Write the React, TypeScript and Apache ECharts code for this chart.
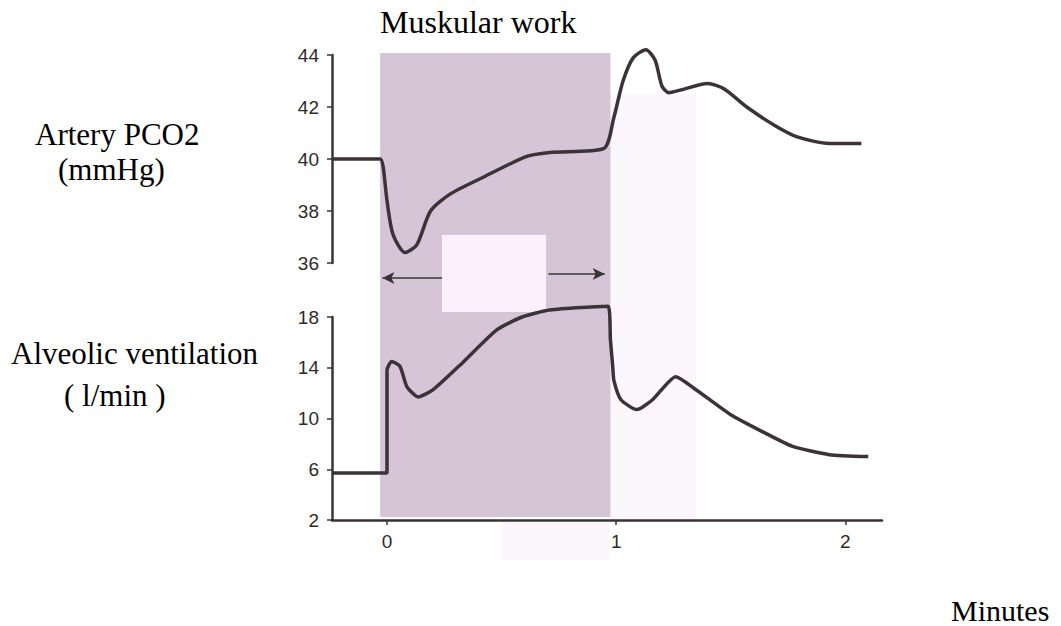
import React, { useEffect, useRef } from "react";
import * as echarts from "echarts";

// Time axis (minutes) and values
const xTicks = [0, 1, 2];
const pco2Ticks = [36, 38, 40, 42, 44];
const ventTicks = [2, 6, 10, 14, 18];

const pco2Time = [-0.24, -0.03, -0.017, 0, 0.026, 0.079, 0.13, 0.19, 0.275, 0.42, 0.61, 0.71, 0.945, 0.99, 1.03, 1.075, 1.13, 1.17, 1.2, 1.23, 1.28, 1.4, 1.47, 1.57, 1.69, 1.79, 1.93, 2.07];
const pco2Values = [40, 40, 39.7, 38.4, 37.1, 36.4, 36.7, 38.0, 38.65, 39.3, 40.1, 40.25, 40.4, 41.6, 43.0, 43.9, 44.2, 43.8, 42.8, 42.55, 42.65, 42.9, 42.7, 42.0, 41.3, 40.85, 40.6, 40.6];

const ventTime = [-0.24, 0, 0, 0.02, 0.057, 0.087, 0.136, 0.2, 0.33, 0.48, 0.59, 0.71, 0.965, 0.975, 0.985, 0.99, 1.02, 1.09, 1.16, 1.26, 1.35, 1.5, 1.64, 1.77, 1.93, 2.1];
const ventValues = [5.7, 5.7, 13.8, 14.5, 14.1, 12.5, 11.7, 12.25, 14.4, 17.0, 18.0, 18.55, 18.85, 16.2, 14.1, 13.0, 11.5, 10.7, 11.5, 13.3, 12.25, 10.3, 8.95, 7.8, 7.15, 7.0];

// Muscular work period (minutes)
const workStart = -0.03;
const workEnd = 0.975;
// White label box and arrows (time range, relative height in the background panel)
const boxTime = [0.24, 0.694];
const boxLevel = [0.489, 0.641];
const arrowLeft = { from: 0.24, to: -0.02, level: 0.556 };
const arrowRight = { from: 0.705, to: 0.95, level: 0.564 };

const X_MIN = -0.24;
const X_MAX = 2.16;

export default function App() {
  const ref = useRef<HTMLDivElement>(null);
  useEffect(() => {
    if (!ref.current) return;
    const chart = echarts.init(ref.current, undefined, { renderer: "svg" });
    const axisColor = "#3a3336";
    const labelStyle = {
      color: "#2e2a2c",
      fontSize: 19,
      fontFamily: "Liberation Sans",
    };
    const serif = "Liberation Serif";
    const yAxisBase = (min: number, max: number, interval: number, gridIndex: number) => ({
      type: "value",
      gridIndex,
      min,
      max,
      interval,
      z: 5,
      axisLine: { show: true, onZero: false, lineStyle: { color: axisColor, width: 2.5 } },
      axisTick: { show: true, length: 5, lineStyle: { color: axisColor, width: 1.5 } },
      axisLabel: { ...labelStyle, margin: 13 },
      splitLine: { show: false },
    });
    const txt = (text: string, left: number, baseline: number, size: number) => ({
      type: "text",
      left,
      top: baseline - Math.round(size * 0.9),
      style: { text, fontSize: size, fontFamily: serif, fill: "#000" },
    });
    const option: any = {
      animation: false,
      backgroundColor: "#ffffff",
      grid: [
        { left: 332, width: 550, top: 55, height: 208 },
        { left: 332, width: 550, top: 317, height: 203 },
        { left: 332, width: 550, top: 53, height: 507 },
      ],
      xAxis: [
        { type: "value", gridIndex: 0, min: X_MIN, max: X_MAX, show: false },
        {
          type: "value",
          gridIndex: 1,
          min: X_MIN,
          max: X_MAX,
          z: 5,
          axisLine: { show: true, onZero: false, lineStyle: { color: axisColor, width: 2.5 } },
          axisTick: { show: true, length: 5, customValues: xTicks, lineStyle: { color: axisColor, width: 1.5 } },
          axisLabel: { ...labelStyle, margin: 12, customValues: xTicks },
          splitLine: { show: false },
        },
        { type: "value", gridIndex: 2, min: X_MIN, max: X_MAX, show: false },
      ],
      yAxis: [
        yAxisBase(pco2Ticks[0], pco2Ticks[pco2Ticks.length - 1], 2, 0),
        yAxisBase(ventTicks[0], ventTicks[ventTicks.length - 1], 4, 1),
        { type: "value", gridIndex: 2, min: 0, max: 1, show: false },
      ],
      series: [
        {
          type: "line",
          xAxisIndex: 2,
          yAxisIndex: 2,
          data: [],
          silent: true,
          markArea: {
            silent: true,
            data: [
              [
                { xAxis: 0.97, yAxis: 0.074, itemStyle: { color: "#fcf7fc" } },
                { xAxis: 1.35, yAxis: 0.92 },
              ],
              [
                { xAxis: 0.5, yAxis: 0, itemStyle: { color: "#fcf7fc" } },
                { xAxis: 0.97, yAxis: 0.074 },
              ],
              [
                { xAxis: workStart, yAxis: 0.085, itemStyle: { color: "#d6c5d6" } },
                { xAxis: workEnd, yAxis: 1 },
              ],
              [
                { xAxis: boxTime[0], yAxis: boxLevel[0], itemStyle: { color: "#fbf0fb" } },
                { xAxis: boxTime[1], yAxis: boxLevel[1] },
              ],
            ],
          },
          markLine: {
            silent: true,
            symbol: ["none", "arrow"],
            symbolSize: [9, 12],
            label: { show: false },
            lineStyle: { color: "#3a3336", width: 1.5, type: "solid" },
            data: [
              [
                { coord: [arrowLeft.from, arrowLeft.level] },
                { coord: [arrowLeft.to, arrowLeft.level] },
              ],
              [
                { coord: [arrowRight.from, arrowRight.level] },
                { coord: [arrowRight.to, arrowRight.level] },
              ],
            ],
          },
        },
        {
          type: "line",
          name: "Artery PCO2",
          xAxisIndex: 0,
          yAxisIndex: 0,
          data: pco2Time.map((t, i) => [t, pco2Values[i]]),
          showSymbol: false,
          clip: false,
          smooth: 0.25,
          lineStyle: { color: "#3b3338", width: 3.5 },
          z: 4,
        },
        {
          type: "line",
          name: "Alveolic ventilation",
          xAxisIndex: 1,
          yAxisIndex: 1,
          data: ventTime.map((t, i) => [t, ventValues[i]]),
          showSymbol: false,
          clip: false,
          smooth: 0.2,
          lineStyle: { color: "#3b3338", width: 3.5 },
          z: 4,
        },
      ],
      graphic: [
        txt("Muskular work", 380, 35, 32),
        txt("Artery PCO2", 35, 147, 31),
        txt("(mmHg)", 58, 182, 31),
        txt("Alveolic ventilation", 11, 366, 31),
        txt("( l/min )", 64, 408, 31),
        txt("Minutes", 951, 622, 30),
      ],
    };
    chart.setOption(option);
    return () => chart.dispose();
  }, []);
  return (
    <div
      ref={ref}
      style={{ position: "fixed", left: 0, top: 0, width: 1061, height: 626, background: "#fff" }}
    />
  );
}
